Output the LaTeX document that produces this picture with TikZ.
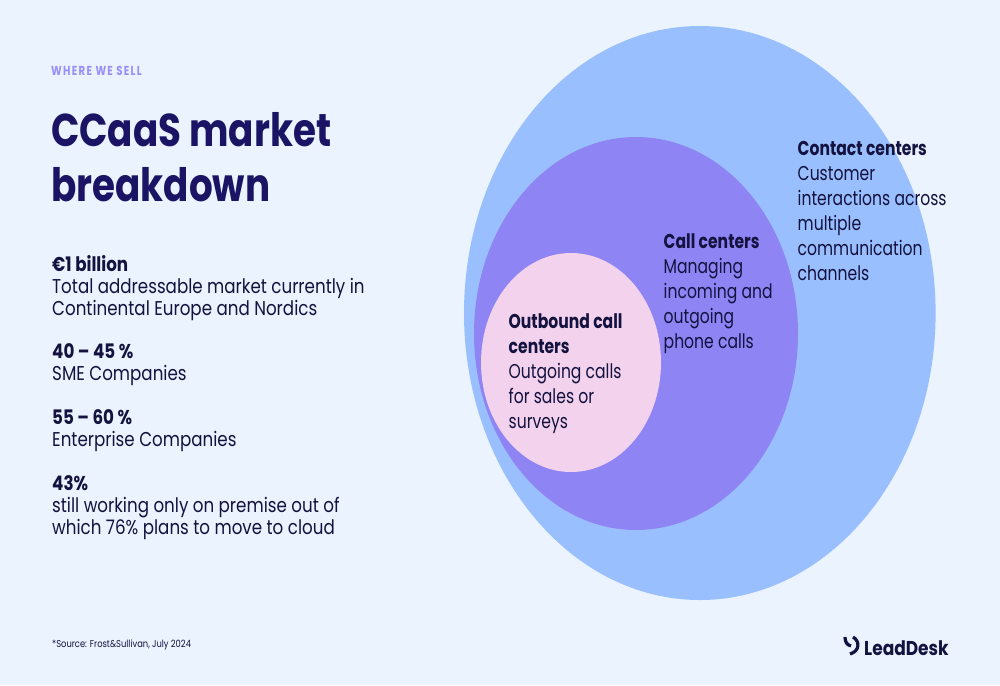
\documentclass[tikz,border=0pt]{standalone}
\usepackage{fontspec}
\setmainfont{Poppins}[FakeStretch=0.835]
\newfontfamily\circfont{Poppins}[FakeStretch=0.78]
\newfontfamily\titlefont{Poppins}[FakeStretch=0.81]
\newfontfamily\kickfont{Poppins}[FakeStretch=0.78,LetterSpace=10]
\newfontfamily\logofont{Poppins}[FakeStretch=0.85]
\definecolor{bgc}{HTML}{EAF3FE}
\definecolor{outerc}{HTML}{9ABFFE}
\definecolor{midc}{HTML}{8F84F4}
\definecolor{innerc}{HTML}{F2D2EC}
\definecolor{navy}{HTML}{1B1464}
\definecolor{inkc}{HTML}{14123F}
\definecolor{kick}{HTML}{9A8FF8}
\newcommand{\fs}[2]{\fontsize{#1}{#2}\selectfont}
\tikzset{
  txt/.style={anchor=north west, inner sep=0pt, align=left, text=inkc},
  body/.style={txt, font=\fs{20}{22}},
  circ/.style={txt, font=\circfont\fs{20}{25}},
}
\begin{document}
\begin{tikzpicture}[x=1pt,y=-1pt]
\fill[bgc] (0,0) rectangle (1000,685);
\useasboundingbox (0,0) rectangle (1000,685);
\fill[outerc] (699.8,313) ellipse [x radius=235.8, y radius=287];
\fill[midc] (636,333.5) ellipse [x radius=162, y radius=196.5];
\fill[innerc] (571,362.5) ellipse [x radius=90, y radius=109.5];
\node (kicker) [anchor=base west, inner sep=0pt, text=kick, font=\kickfont\fs{13}{15}] at (51,75) {\textbf{WHERE WE SELL}};
\node (title) [txt, text=navy, font=\titlefont\fs{46}{55}\bfseries] at (51,112) {CCaaS market\\breakdown};
\node (b1) [body] at (52,255) {\textbf{€1 billion}\\Total addressable market currently in\\Continental Europe and Nordics};
\node (b2) [body] at (52,343) {\textbf{40 – 45 \%}\\SME Companies};
\node (b3) [body] at (52,409) {\textbf{55 – 60 \%}\\Enterprise Companies};
\node (b4) [body] at (52,475) {\textbf{43\%}\\still working only on premise out of\\which 76\% plans to move to cloud};
\node (source) [anchor=base west, inner sep=0pt, text=inkc, font=\fs{10}{12}] at (52,647) {*Source: Frost\&Sullivan, July 2024};
\node (contact) [circ] at (797.5,141) {\textbf{Contact centers}\\Customer\\interactions across\\multiple\\communication\\channels};
\node (call) [circ] at (663.5,233.5) {\textbf{Call centers}\\Managing\\incoming and\\outgoing\\phone calls};
\node (outbound) [circ] at (508.5,313.5) {\textbf{Outbound call}\\\textbf{centers}\\Outgoing calls\\for sales or\\surveys};
\draw[inkc, line width=3.2pt] (845,637) .. controls (845,642) and (847,645) .. (851,646);
\draw[inkc, line width=3.2pt] (853,637) .. controls (860,641) and (860,651) .. (850,654);
\node (logo) [anchor=base west, inner sep=0pt, text=inkc, font=\logofont\fs{20}{22}\bfseries] at (864,655) {LeadDesk};
\end{tikzpicture}
\end{document}
